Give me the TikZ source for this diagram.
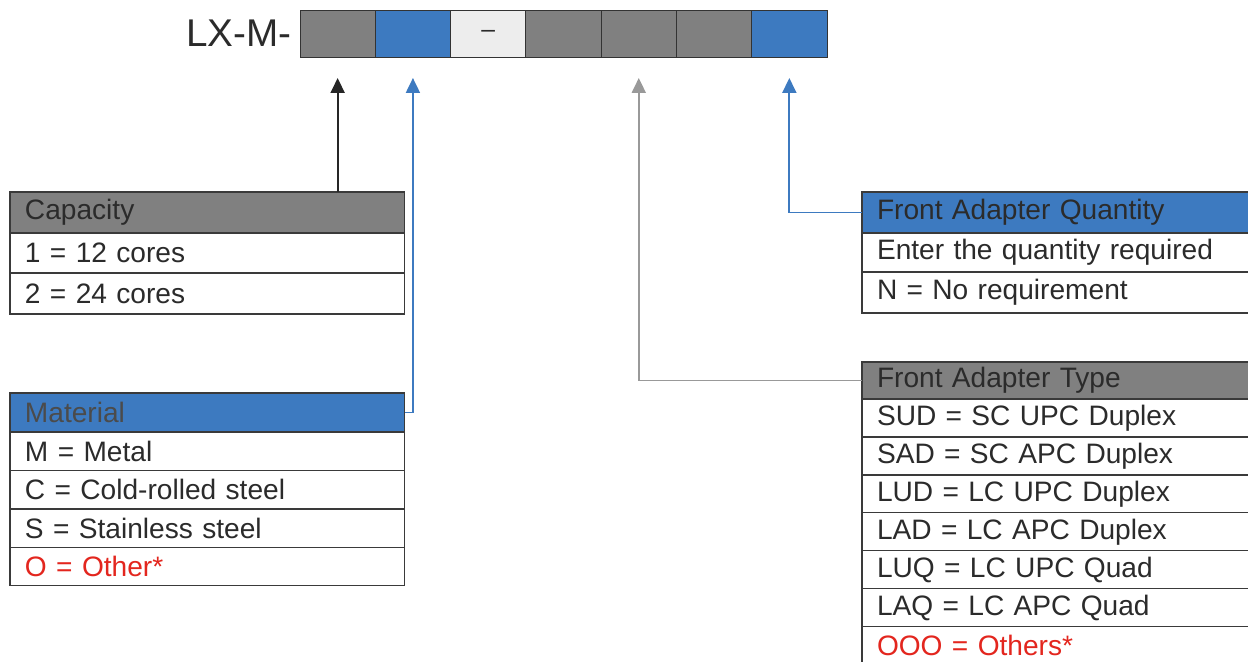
\documentclass[tikz,border=0pt]{standalone}
\usepackage{fontspec}
\setmainfont{Liberation Sans}
\usetikzlibrary{arrows.meta,positioning}
\definecolor{codegray}{HTML}{808080}
\definecolor{codeblue}{HTML}{3D7AC0}
\definecolor{codelight}{HTML}{EDEDED}
\definecolor{tabline}{HTML}{3A3A3A}
\definecolor{txtdark}{HTML}{2B2B2B}
\definecolor{othred}{HTML}{E3261E}

\begin{document}
\begin{tikzpicture}[
  x=0.02cm, y=-0.02cm,
  cell/.style={rectangle, draw=black!80, line width=0.5pt, outer sep=0pt,
               inner sep=0pt, minimum width=1.506cm, minimum height=0.94cm},
  tab/.style={rectangle, draw=tabline, line width=0.6pt, outer sep=0pt,
              inner xsep=0.3cm, inner ysep=0pt, text width=7.3cm, align=left,
              font=\fontsize{16}{18}\selectfont, text=txtdark, fill=white},
  tabwide/.style={tab, text width=7.4cm},
  arr/.style={-{Triangle[width=0.28cm,length=0.3cm]}, line width=1.1pt,
              shorten >=0.42cm},
]
  \useasboundingbox (0,0) rectangle (1248,662);

  % code cells
  \node[cell, fill=codegray, anchor=north west] (c1) at (300,10) {};
  \node[cell, fill=codeblue, right=0pt of c1] (c2) {};
  \node[cell, fill=codelight, right=0pt of c2] (c3)
    {\fontsize{14}{16}\selectfont\color{txtdark}--};
  \node[cell, fill=codegray, right=0pt of c3] (c4) {};
  \node[cell, fill=codegray, right=0pt of c4] (c5) {};
  \node[cell, fill=codegray, right=0pt of c5] (c6) {};
  \node[cell, fill=codeblue, right=0pt of c6] (c7) {};
  \node[left=0.16cm of c1, inner sep=0pt, text=txtdark,
        font=\fontsize{22}{24}\selectfont] (lxm) {LX-M-};

  % capacity
  \node[tab, fill=codegray, minimum height=0.82cm, anchor=north west] (cap)
    at (10,192) {Capacity};
  \node[tab, minimum height=0.8cm, below=0pt of cap] (cap1) {1 = 12 cores};
  \node[tab, minimum height=0.82cm, below=0pt of cap1] (cap2) {2 = 24 cores};

  % material
  \node[tab, fill=codeblue, minimum height=0.78cm, anchor=north west] (mat)
    at (10,393) {\color{txtdark!85}Material};
  \node[tab, minimum height=0.77cm, below=0pt of mat] (mat1) {M = Metal};
  \node[tab, minimum height=0.77cm, below=0pt of mat1] (mat2)
    {C = Cold-rolled steel};
  \node[tab, minimum height=0.77cm, below=0pt of mat2] (mat3)
    {S = Stainless steel};
  \node[tab, minimum height=0.77cm, below=0pt of mat3, text=othred] (mat4)
    {O = Other*};

  % front adapter quantity
  \node[tabwide, fill=codeblue, minimum height=0.82cm, anchor=north west] (qty)
    at (862,192) {Front Adapter Quantity};
  \node[tabwide, minimum height=0.78cm, below=0pt of qty] (qty1)
    {Enter the quantity required};
  \node[tabwide, minimum height=0.82cm, below=0pt of qty1] (qty2)
    {N = No requirement};

  % front adapter type
  \node[tabwide, fill=codegray, minimum height=0.74cm, anchor=north west] (typ)
    at (862,362) {Front Adapter Type};
  \node[tabwide, minimum height=0.76cm, below=0pt of typ] (typ1)
    {SUD = SC UPC Duplex};
  \node[tabwide, minimum height=0.76cm, below=0pt of typ1] (typ2)
    {SAD = SC APC Duplex};
  \node[tabwide, minimum height=0.76cm, below=0pt of typ2] (typ3)
    {LUD = LC UPC Duplex};
  \node[tabwide, minimum height=0.76cm, below=0pt of typ3] (typ4)
    {LAD = LC APC Duplex};
  \node[tabwide, minimum height=0.76cm, below=0pt of typ4] (typ5)
    {LUQ = LC UPC Quad};
  \node[tabwide, minimum height=0.76cm, below=0pt of typ5] (typ6)
    {LAQ = LC APC Quad};
  \node[tabwide, minimum height=0.76cm, below=0pt of typ6, text=othred] (typ7)
    {OOO = Others*};

  % connectors
  \draw[arr, black!85] (cap.north -| c1.south) -- (c1.south);
  \draw[arr, codeblue] (mat.east) -| (c2.south);
  \draw[arr, black!40] (typ.west) -| (c5.south);
  \draw[arr, codeblue] (qty.west) -| (c7.south);
\end{tikzpicture}
\end{document}
